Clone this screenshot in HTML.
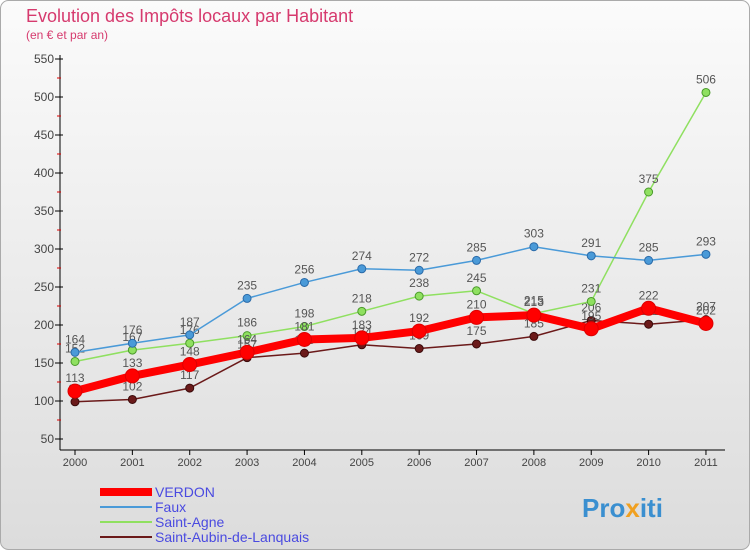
<!DOCTYPE html>
<html><head><meta charset="utf-8"><style>
body{margin:0;}
#c{width:750px;height:550px;position:relative;font-family:"Liberation Sans",sans-serif;}
</style></head><body>
<div id="c">
<svg id="s" width="750" height="550" xmlns="http://www.w3.org/2000/svg">
<defs><linearGradient id="bg" x1="0" y1="0" x2="0" y2="1"><stop offset="0" stop-color="#fbfbfb"/><stop offset="1" stop-color="#dcdcdc"/></linearGradient></defs>
<rect x="0.5" y="0.5" width="749" height="549" rx="8" fill="url(#bg)" stroke="#aaa"/>
<text x="26" y="22" font-size="18" fill="#d63a6e">Evolution des Impôts locaux par Habitant</text>
<text x="26" y="39" font-size="12" fill="#d63a6e">(en € et par an)</text>
<g id="axes"></g><g id="series"></g><g id="legend"></g>
<text x="582" y="517" font-size="26" font-weight="bold" fill="#3a8fd0">Pro<tspan fill="#f0a020">x</tspan>iti</text>
</svg></div>
<script>
const years=[2000,2001,2002,2003,2004,2005,2006,2007,2008,2009,2010,2011];
const yTicks=[50,100,150,200,250,300,350,400,450,500,550];
const verdon=[113,133,148,164,181,183,192,210,213,195,222,202];
const faux=[164,176,187,235,256,274,272,285,303,291,285,293];
const saintAgne=[152,167,176,186,198,218,238,245,215,231,375,506];
const saintAubin=[99,102,117,157,163,174,169,175,185,206,201,207];
const NS="http://www.w3.org/2000/svg";
const X=i=>75+i*57.36, Y=v=>439-(v-50)*0.76;
function mk(t,a,p){const e=document.createElementNS(NS,t);for(const k in a)e.setAttribute(k,a[k]);p.appendChild(e);return e;}
const ax=document.getElementById('axes');
let yl=mk('line',{x1:60,y1:55,x2:60,y2:450,stroke:'#000'},ax);


let xl=mk('line',{x1:60,y1:450,x2:725,y2:450,stroke:'#000'},ax);


yTicks.forEach(v=>{mk('line',{x1:55,y1:Y(v),x2:63,y2:Y(v),stroke:'#000'},ax);
 if(v<550)mk('line',{x1:57,y1:Y(v+25),x2:61,y2:Y(v+25),stroke:'#d00'},ax);
 const t=mk('text',{x:54,y:Y(v)+4,'font-size':12,'text-anchor':'end',fill:'#444'},ax);t.textContent=v;
 
 });
years.forEach((y,i)=>{mk('line',{x1:X(i),y1:450,x2:X(i),y2:455,stroke:'#000'},ax);
 const t=mk('text',{x:X(i),y:466,'font-size':11,'text-anchor':'middle',fill:'#444'},ax);t.textContent=y;
 
 });
const sg=document.getElementById('series');
function series(d,col,w,r,name,dark){
 const g=mk('g',{},sg);
 
 
 mk('polyline',{points:d.map((v,i)=>X(i)+','+Y(v)).join(' '),fill:'none',stroke:col,'stroke-width':w,'stroke-linejoin':'round'},g);
 d.forEach((v,i)=>{const c=mk('circle',{cx:X(i),cy:Y(v),r:r,fill:col,stroke:dark,'stroke-width':1},g);
  
  
  const t=mk('text',{x:X(i),y:Y(v)-9,'font-size':12,'text-anchor':'middle',fill:'#555'},g);t.textContent=v;
  
  });
}
series(saintAubin,'#6b1a1a',1.5,4,'saint-aubin','#3a0a0a');
series(saintAgne,'#8fe060',1.5,4,'saint-agne','#4a9a2a');
series(faux,'#4a9ad8',1.5,4,'faux','#2a6aa8');
series(verdon,'#ff0000',8,7,'verdon','#dd0000');
const lg=document.getElementById('legend');
[['VERDON','#ff0000',8],['Faux','#4a9ad8',2],['Saint-Agne','#8fe060',2],['Saint-Aubin-de-Lanquais','#6b1a1a',2]].forEach((e,i)=>{
 const y=492+i*15;
 const g=mk('g',{},lg);
 
 
 mk('line',{x1:100,y1:y,x2:152,y2:y,stroke:e[1],'stroke-width':e[2]},g);
 const t=mk('text',{x:155,y:y+5,'font-size':14,fill:'#4a4ae0'},g);t.textContent=e[0];});
</script>
</body></html>
